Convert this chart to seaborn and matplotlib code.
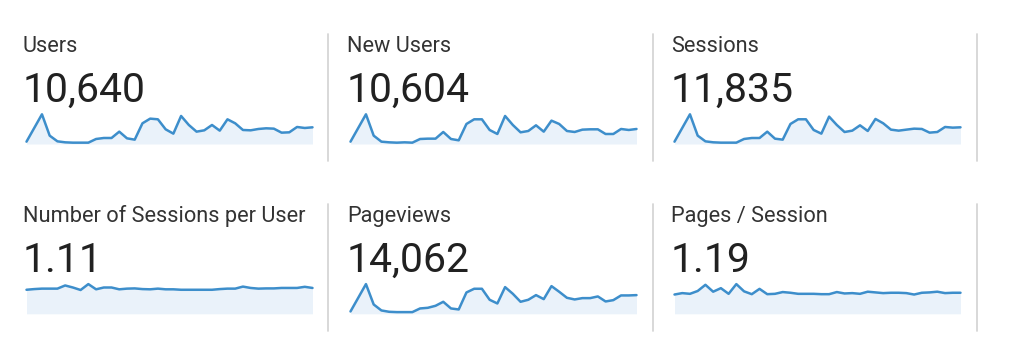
import numpy as np
import pandas as pd
import matplotlib
matplotlib.use("Agg")
import matplotlib.pyplot as plt
from matplotlib.lines import Line2D
import seaborn as sns

# ---- data (38 daily points each) ----
metric_names = ["Users", "New Users", "Sessions",
                "Number of Sessions per User", "Pageviews", "Pages / Session"]
metric_totals = ["10,640", "10,604", "11,835", "1.11", "14,062", "1.19"]

users = [49, 336, 623, 175, 56, 35, 28, 28, 28, 105, 126, 126, 259, 119, 91, 434, 532, 518, 308,
         217, 588, 399, 259, 287, 399, 280, 518, 434, 294, 287, 315, 329, 322, 238, 245, 357, 336, 350]
new_users = [49, 336, 623, 175, 49, 35, 28, 35, 28, 105, 112, 112, 252, 105, 77, 420, 518, 518, 294,
             210, 588, 399, 245, 273, 392, 259, 490, 420, 273, 252, 301, 308, 308, 210, 210, 315, 294, 315]
sessions = [55, 379, 703, 198, 63, 40, 32, 32, 32, 119, 142, 142, 292, 126, 103, 474, 585, 585, 332,
            245, 648, 450, 284, 316, 442, 308, 593, 490, 340, 316, 340, 363, 356, 269, 284, 403, 387, 395]
sessions_per_user = [1.06, 1.09, 1.11, 1.11, 1.11, 1.25, 1.16, 1.05, 1.31, 1.08, 1.16, 1.16, 1.08,
                     1.11, 1.12, 1.09, 1.08, 1.11, 1.08, 1.08, 1.06, 1.06, 1.06, 1.06, 1.06, 1.09,
                     1.11, 1.11, 1.20, 1.14, 1.11, 1.12, 1.12, 1.14, 1.14, 1.14, 1.19, 1.14]
pageviews = [65, 446, 828, 260, 93, 56, 47, 47, 47, 149, 167, 223, 335, 149, 121, 595, 698, 698, 391,
             288, 744, 558, 335, 391, 521, 409, 772, 614, 446, 400, 437, 437, 484, 344, 381, 512, 512, 521]
pages_per_session = [1.09, 1.17, 1.13, 1.29, 1.64, 1.25, 1.45, 1.13, 1.68, 1.27, 1.11, 1.41, 1.11,
                     1.13, 1.23, 1.19, 1.13, 1.13, 1.13, 1.11, 1.11, 1.23, 1.15, 1.17, 1.13, 1.25,
                     1.21, 1.17, 1.19, 1.19, 1.17, 1.09, 1.19, 1.21, 1.25, 1.17, 1.19, 1.19]

series = [users, new_users, sessions, sessions_per_user, pageviews, pages_per_session]

# ---- styling ----
sns.set_theme(style="white")
plt.rcParams["font.family"] = ["Roboto", "DejaVu Sans"]

W, H = 1024, 357
fig = plt.figure(figsize=(W / 100, H / 100), dpi=100)
fig.patch.set_facecolor("white")

LINE = "#3d8ecb"
FILL = "#eaf2fa"
DIV = "#d6d6d6"

text_x = [23, 347, 671]
spark_x = [26.5, 350.5, 674.5]
spark_w = 286
label_base = [52, 222]
num_base = [101.7, 271.7]
spark_bottom = [144, 313.8]
spark_h = 29.7


def fx(px):
    return px / W


def fy(py):
    return 1 - py / H


for i, (name, total, vals) in enumerate(zip(metric_names, metric_totals, series)):
    r, c = divmod(i, 3)
    fig.text(fx(text_x[c]), fy(label_base[r]), name, fontsize=15.7,
             color="#333333", va="baseline", ha="left")
    fig.text(fx(text_x[c]), fy(num_base[r]), total, fontsize=29.5,
             color="#212121", va="baseline", ha="left")

    ax = fig.add_axes([fx(spark_x[c]), fy(spark_bottom[r]), spark_w / W, spark_h / H])
    df = pd.DataFrame({"day": np.arange(len(vals)), "value": vals})
    ax.fill_between(df["day"], 0, df["value"], color=FILL, linewidth=0)
    sns.lineplot(data=df, x="day", y="value", ax=ax, color=LINE, linewidth=1.8)
    for ln in ax.lines:
        ln.set_clip_on(False)
    ax.set_xlim(0, len(vals) - 1)
    ax.set_ylim(0, max(vals))
    ax.axis("off")

# dividers
for r, (y0, y1) in enumerate([(34, 161), (204, 331)]):
    for x in [328.3, 652.7, 977.3]:
        fig.add_artist(Line2D([fx(x), fx(x)], [fy(y0), fy(y1)], color=DIV, linewidth=1.3))

fig.savefig("out.png", dpi=100, facecolor="white")
